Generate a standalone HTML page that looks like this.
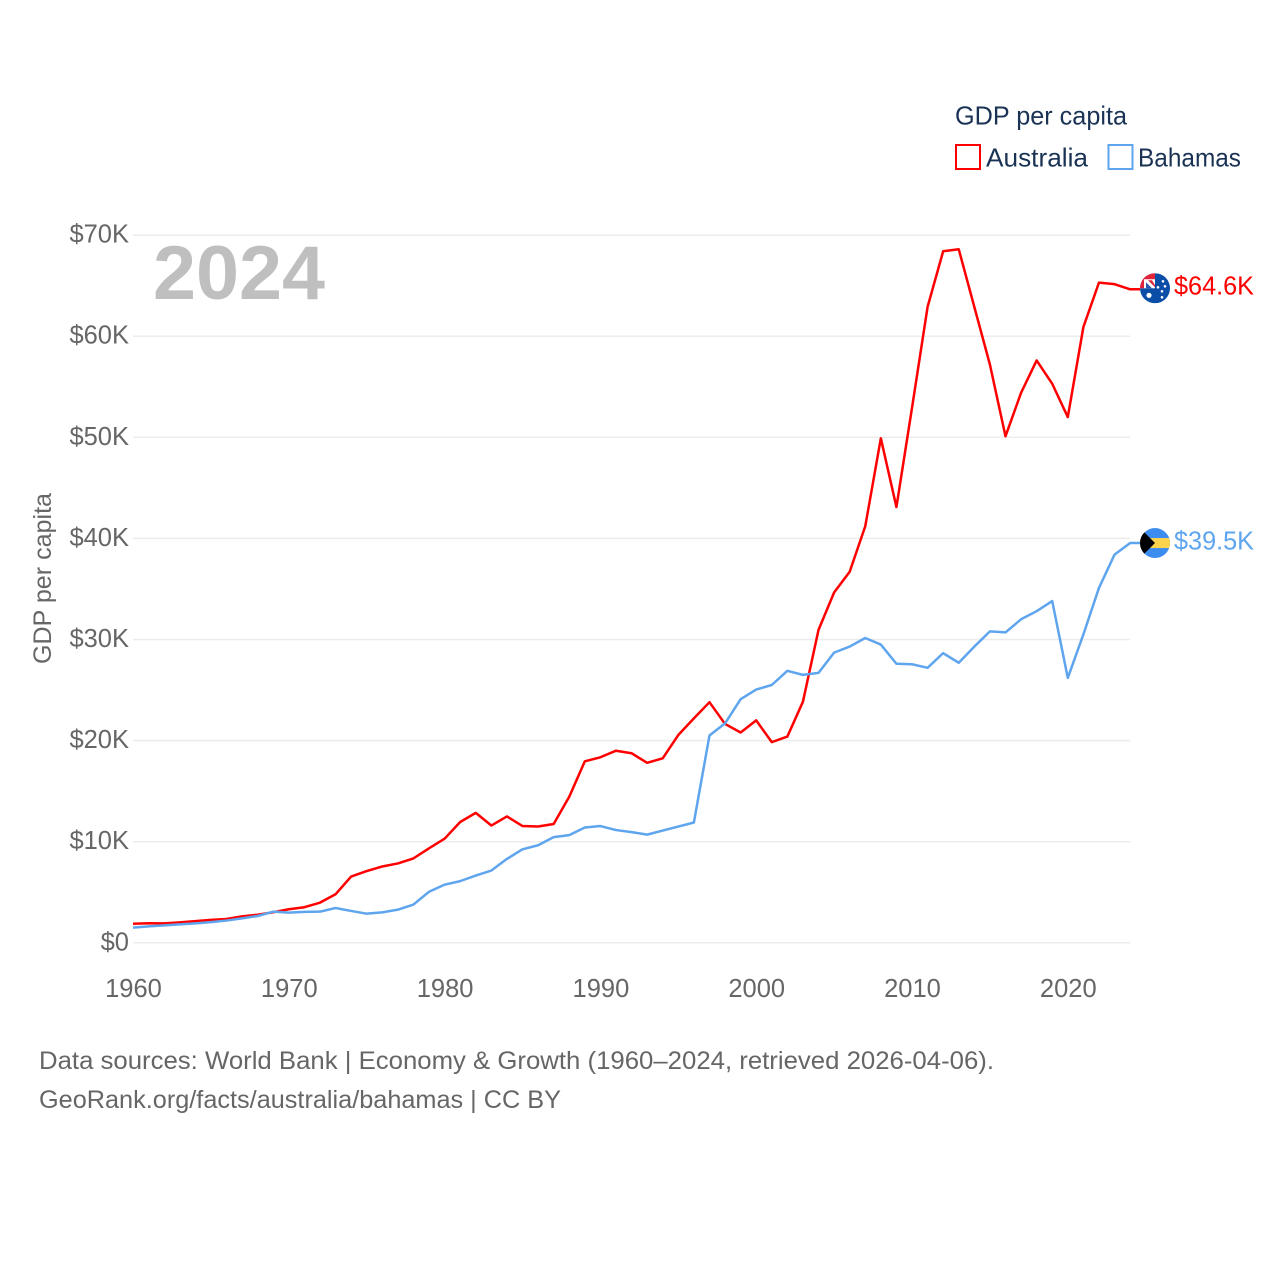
<!DOCTYPE html>
<html lang="en">
<head>
<meta charset="utf-8">
<title>GDP per capita: Australia and Bahamas</title>
<style>
html,body{margin:0;padding:0;background:#fff;}
svg{display:block;font-family:"Liberation Sans",sans-serif;}
</style>
</head>
<body>
<svg id="chart" width="1280" height="1280" viewBox="0 0 1280 1280" xmlns="http://www.w3.org/2000/svg">
  <defs>
    <clipPath id="flag-clip"><circle cx="0" cy="0" r="15"></circle></clipPath>
  </defs>
  <g id="grid"></g>
  <g id="y-ticks"></g>
  <g id="x-ticks"></g>
  <text transform="translate(51,664) rotate(-90)" font-size="25" fill="#666666" textLength="171" lengthAdjust="spacingAndGlyphs">GDP per capita</text>
  <text x="153" y="299" font-size="76" font-weight="700" fill="#bfbfbf" textLength="172" lengthAdjust="spacingAndGlyphs">2024</text>

  <g>
    <text x="955" y="124.5" font-size="26" fill="#1a3354" textLength="172" lengthAdjust="spacingAndGlyphs">GDP per capita</text>
    <g>
      <rect x="956" y="145" width="24" height="24" fill="none" stroke="#ff0000" stroke-width="2"></rect>
      <text x="986" y="166.5" font-size="26" fill="#1a3354" textLength="102" lengthAdjust="spacingAndGlyphs">Australia</text>
    </g>
    <g>
      <rect x="1108.5" y="145" width="24" height="24" fill="none" stroke="#5fa5ee" stroke-width="2"></rect>
      <text x="1138" y="166.5" font-size="26" fill="#1a3354" textLength="103" lengthAdjust="spacingAndGlyphs">Bahamas</text>
    </g>
  </g>

  <g id="series"></g>

  <g id="flag-australia">
    <g clip-path="url(#flag-clip)">
      <rect x="-15" y="-15" width="30" height="30" fill="#0b4ea8"></rect>
      <rect x="-15" y="-15" width="15" height="15" fill="#ffffff"></rect>
      <path d="M-15,-15 H0 V-9 H-15 Z" fill="#e0243c"></path>
      <path d="M-15,-15 H-11 V0 H-15 Z" fill="#e0243c"></path>
      <path d="M-7,-8 L-3,-8 L0,-3 L0,-1 Z" fill="#e0243c"></path>
      <path d="M-9,-6 L-3,0 L-9,0 Z" fill="#2a5ab0"></path>
      <circle cx="-6" cy="7" r="2.6" fill="#ffffff"></circle>
      <circle cx="8" cy="-7" r="1.3" fill="#ffffff"></circle>
      <circle cx="3" cy="-1" r="1.3" fill="#ffffff"></circle>
      <circle cx="10" cy="-2" r="1.3" fill="#ffffff"></circle>
      <circle cx="7" cy="3" r="1.3" fill="#ffffff"></circle>
      <circle cx="7" cy="9" r="1.3" fill="#ffffff"></circle>
    </g>
  </g>
  <g id="flag-bahamas">
    <g clip-path="url(#flag-clip)">
      <rect x="-15" y="-15" width="30" height="30" fill="#3d8df0"></rect>
      <rect x="-15" y="-5" width="30" height="10" fill="#fcd34d"></rect>
      <path d="M-15,-15 L0,0 L-15,15 Z" fill="#000000"></path>
    </g>
  </g>

  <text id="label-australia" x="1174" font-size="26" fill="#ff0000" textLength="80" lengthAdjust="spacingAndGlyphs"></text>
  <text id="label-bahamas" x="1174" font-size="26" fill="#5fa5ee" textLength="80" lengthAdjust="spacingAndGlyphs"></text>

  <text x="39" y="1069" font-size="25" fill="#666666" textLength="955" lengthAdjust="spacingAndGlyphs">Data sources: World Bank | Economy &amp; Growth (1960–2024, retrieved 2026-04-06).</text>
  <text x="39" y="1108" font-size="25" fill="#666666" textLength="522" lengthAdjust="spacingAndGlyphs">GeoRank.org/facts/australia/bahamas | CC BY</text>
</svg>
<script>
const startYear = 1960;
const xTickYears = [1960, 1970, 1980, 1990, 2000, 2010, 2020];
const yTickValues = [0, 10, 20, 30, 40, 50, 60, 70];
const yTickLabels = ["$0", "$10K", "$20K", "$30K", "$40K", "$50K", "$60K", "$70K"];

const australia = [
  1.88, 1.94, 1.92, 2.02, 2.14, 2.27, 2.36, 2.62, 2.78, 3.02,
  3.32, 3.52, 3.97, 4.80, 6.55, 7.10, 7.55, 7.85, 8.35, 9.35,
  10.30, 11.95, 12.85, 11.60, 12.50, 11.55, 11.50, 11.75, 14.45, 17.95,
  18.35, 19.00, 18.75, 17.80, 18.25, 20.55, 22.20, 23.80, 21.65, 20.80,
  22.00, 19.85, 20.40, 23.85, 30.95, 34.65, 36.70, 41.20, 49.90, 43.10,
  52.90, 62.90, 68.40, 68.60, 62.90, 57.20, 50.10, 54.40, 57.60, 55.30,
  52.00, 60.90, 65.30, 65.15, 64.64
];
const bahamas = [
  1.50, 1.62, 1.72, 1.82, 1.92, 2.05, 2.20, 2.42, 2.65, 3.08,
  2.98, 3.06, 3.08, 3.44, 3.15, 2.88, 3.01, 3.28, 3.78, 5.05,
  5.75, 6.10, 6.65, 7.15, 8.30, 9.25, 9.65, 10.45, 10.65, 11.40,
  11.55, 11.15, 10.95, 10.70, 11.10, 11.50, 11.90, 20.50, 21.70, 24.10,
  25.05, 25.50, 26.90, 26.50, 26.70, 28.70, 29.30, 30.15, 29.50, 27.60,
  27.55, 27.20, 28.65, 27.70, 29.30, 30.80, 30.70, 32.00, 32.80, 33.80,
  26.20, 30.50, 35.10, 38.40, 39.54
];

const svgNS = "http://www.w3.org/2000/svg";
const xOrigin = 133, xStep = 15.58, yOrigin = 942.8, yPerUnit = 10.11;
const flagX = 1155;

function xScale(year) { return xOrigin + (year - startYear) * xStep; }
function yScale(value) { return yOrigin - value * yPerUnit; }

const gridGroup = document.getElementById("grid");
const yTickGroup = document.getElementById("y-ticks");
const xTickGroup = document.getElementById("x-ticks");
const seriesGroup = document.getElementById("series");
const xEnd = xScale(2024);

yTickValues.forEach(function (value, i) {
  const line = document.createElementNS(svgNS, "line");
  line.setAttribute("x1", xOrigin);
  line.setAttribute("x2", xEnd);
  line.setAttribute("y1", yScale(value));
  line.setAttribute("y2", yScale(value));
  line.setAttribute("stroke", "#ececec");
  line.setAttribute("stroke-width", "1.5");
  
  
  gridGroup.appendChild(line);

  const label = document.createElementNS(svgNS, "text");
  label.setAttribute("x", 129);
  label.setAttribute("y", yScale(value) + 7.5);
  label.setAttribute("text-anchor", "end");
  label.setAttribute("font-size", "25.5");
  label.setAttribute("fill", "#666666");
  label.textContent = yTickLabels[i];
  
  
  yTickGroup.appendChild(label);
});

xTickYears.forEach(function (year) {
  const label = document.createElementNS(svgNS, "text");
  label.setAttribute("x", xScale(year) + 0.5);
  label.setAttribute("y", 997);
  label.setAttribute("text-anchor", "middle");
  label.setAttribute("font-size", "25.5");
  label.setAttribute("fill", "#666666");
  label.textContent = String(year);
  
  
  xTickGroup.appendChild(label);
});

function linePoints(values) {
  const pts = values.map(function (v, i) {
    return xScale(startYear + i).toFixed(2) + "," + yScale(v).toFixed(2);
  });
  pts.push((flagX - 15) + "," + yScale(values[values.length - 1]).toFixed(2));
  return pts.join(" ");
}

const australiaLine = document.createElementNS(svgNS, "polyline");
australiaLine.setAttribute("points", linePoints(australia));
australiaLine.setAttribute("fill", "none");
australiaLine.setAttribute("stroke", "#ff0000");
australiaLine.setAttribute("stroke-width", "2.5");
australiaLine.setAttribute("stroke-linejoin", "round");


seriesGroup.appendChild(australiaLine);

const bahamasLine = document.createElementNS(svgNS, "polyline");
bahamasLine.setAttribute("points", linePoints(bahamas));
bahamasLine.setAttribute("fill", "none");
bahamasLine.setAttribute("stroke", "#5fa5ee");
bahamasLine.setAttribute("stroke-width", "2.5");
bahamasLine.setAttribute("stroke-linejoin", "round");


seriesGroup.appendChild(bahamasLine);

function placeEnd(values, flagId, labelId, flagOffset, labelOffset) {
  const last = values[values.length - 1];
  const y = yScale(last);
  document.getElementById(flagId).setAttribute("transform", "translate(" + flagX + "," + (y + flagOffset) + ")");
  const label = document.getElementById(labelId);
  label.setAttribute("y", y + labelOffset);
  label.textContent = "$" + last.toFixed(1) + "K";
}
placeEnd(australia, "flag-australia", "label-australia", -1, 5);
placeEnd(bahamas, "flag-bahamas", "label-bahamas", 0, 6.5);
</script>
</body>
</html>
